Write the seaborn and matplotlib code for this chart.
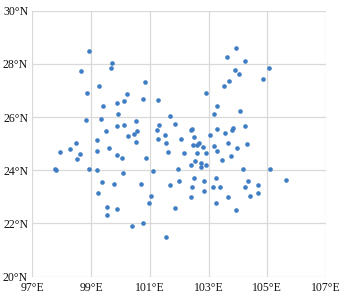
import numpy as np
import pandas as pd
import seaborn as sns
import matplotlib.pyplot as plt

# station coordinates (lon E, lat N)
lon = [98.92, 99.72, 99.69, 98.65, 100.84, 99.27, 98.86, 100.21, 100.76, 101.27,
       100.13, 99.87, 99.41, 99.93, 101.68, 99.35, 98.83, 100.54, 101.33, 101.87,
       100.13, 99.90, 101.24, 100.57, 99.50, 100.47, 100.26, 101.52, 101.29, 102.08,
       99.20, 100.53, 101.55, 98.48, 99.60, 98.29, 99.20, 97.95, 101.61, 102.18,
       98.61, 99.87, 100.87, 100.06, 98.52, 97.78, 97.82, 98.94, 99.20, 101.10,
       101.97, 100.09, 99.37, 100.71, 99.78, 101.98, 101.70, 99.25, 101.05, 100.96,
       99.56, 99.89, 99.56, 101.85, 100.78, 100.40, 101.56,
       103.95, 103.63, 104.23, 103.90, 104.05, 105.06, 104.86, 103.71, 103.54, 102.91,
       103.29, 104.07, 103.17, 102.42, 102.45, 103.28, 104.24, 103.82, 103.80, 103.55,
       103.04, 102.50, 103.66, 104.32, 102.48, 102.61, 102.69, 102.80, 103.17, 103.98,
       103.28, 102.60, 102.90, 103.77, 103.46, 102.55, 102.76, 102.91, 102.39, 102.74,
       104.16, 105.08, 102.50, 102.83, 103.26, 105.64, 104.33, 104.69, 102.44, 103.15,
       103.38, 104.25, 102.83, 104.69, 104.41, 102.40, 103.68, 103.25, 103.95]
lat = [28.49, 28.03, 27.84, 27.75, 27.31, 27.16, 26.91, 26.88, 26.68, 26.64,
       26.59, 26.54, 26.42, 26.13, 26.05, 25.91, 25.88, 25.84, 25.71, 25.74,
       25.70, 25.68, 25.53, 25.48, 25.46, 25.35, 25.28, 25.34, 25.19, 25.17,
       25.13, 25.05, 25.03, 25.02, 24.84, 24.81, 24.73, 24.70, 24.69, 24.66,
       24.60, 24.59, 24.46, 24.45, 24.44, 24.06, 24.01, 24.06, 24.02, 23.98,
       24.06, 23.89, 23.55, 23.50, 23.47, 23.60, 23.45, 23.16, 23.02, 22.78,
       22.63, 22.56, 22.31, 22.58, 22.00, 21.91, 21.48,
       28.61, 28.25, 28.11, 27.76, 27.63, 27.86, 27.43, 27.36, 27.18, 26.92,
       26.42, 26.22, 26.11, 25.53, 25.55, 25.55, 25.67, 25.59, 25.50, 25.41,
       25.33, 25.24, 25.04, 24.98, 24.95, 24.95, 25.01, 24.89, 24.92, 24.84,
       24.74, 24.66, 24.66, 24.54, 24.40, 24.35, 24.29, 24.20, 24.20, 24.12,
       24.05, 24.06, 23.70, 23.61, 23.70, 23.65, 23.61, 23.45, 23.37, 23.38,
       23.38, 23.38, 23.23, 23.14, 23.03, 23.00, 22.98, 22.78, 22.50]

xticks = [97, 99, 101, 103, 105, 107]
yticks = [20, 22, 24, 26, 28, 30]
xlabels = ['97°E', '99°E', '101°E', '103°E', '105°E', '107°E']
ylabels = ['20°N', '22°N', '24°N', '26°N', '28°N', '30°N']

df = pd.DataFrame({'lon': lon, 'lat': lat})

sns.set_style('white')
plt.rcParams['font.family'] = ['Liberation Serif', 'DejaVu Serif']

fig = plt.figure(figsize=(3.42, 3.0), dpi=100)
ax = fig.add_axes([0.0944, 0.0777, 0.9532 - 0.0944, 0.9643 - 0.0777])

sns.scatterplot(data=df, x='lon', y='lat', ax=ax, color='#3F7DC4',
                s=11, linewidth=0, zorder=3)

ax.set_xlim(97, 107)
ax.set_ylim(20, 30)
ax.set_xticks(xticks)
ax.set_xticklabels(xlabels)
ax.set_yticks(yticks)
ax.set_yticklabels(ylabels)
ax.tick_params(length=0, labelsize=8.5, colors='#111111')
ax.tick_params(axis='y', pad=3)
ax.tick_params(axis='x', pad=4)
ax.grid(True, color='#d9d9d9', linewidth=0.9)
for sp in ax.spines.values():
    sp.set_visible(False)
ax.set_xlabel('')
ax.set_ylabel('')

plt.savefig('out.png', dpi=100)
plt.close()
